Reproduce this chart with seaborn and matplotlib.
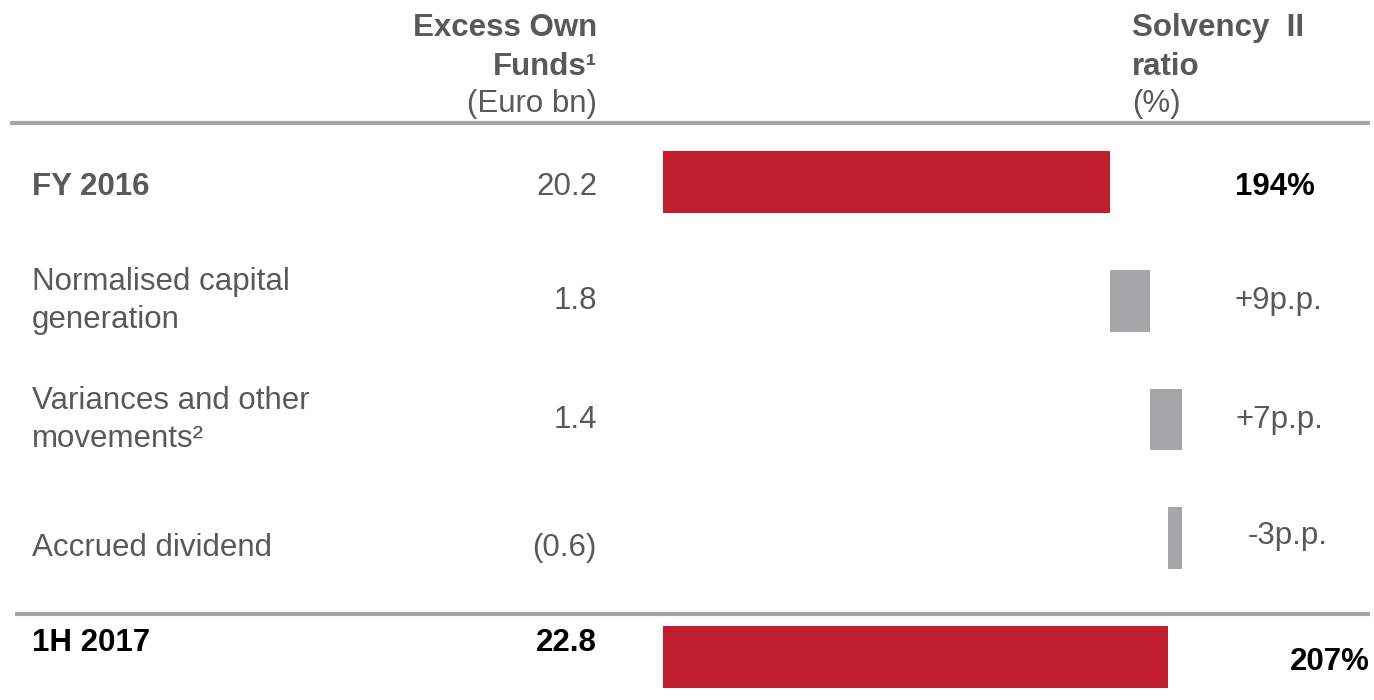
import matplotlib
matplotlib.use("Agg")
import matplotlib.pyplot as plt
import seaborn as sns
import pandas as pd

# ---- data ----
categories = ["FY 2016", "Normalised capital\ngeneration", "Variances and other\nmovements\u00b2",
              "Accrued dividend", "1H 2017"]
excess_own_funds = ["20.2", "1.8", "1.4", "(0.6)", "22.8"]
ratio_start = 194
ratio_moves = [9, 7, -3]
ratio_end = 207
ratio_labels = ["194%", "+9p.p.", "+7p.p.", "-3p.p.", "207%"]
header_left = ["Excess Own", "Funds\u00b9", "(Euro bn)"]
header_right = ["Solvency  II", "ratio", "(%)"]

# waterfall starts / ends
starts, ends = [0], [ratio_start]
cur = ratio_start
for m in ratio_moves:
    nxt = cur + m
    starts.append(min(cur, nxt))
    ends.append(max(cur, nxt))
    cur = nxt
starts.append(0)
ends.append(ratio_end)

RED = "#BE1E2D"
GREY_BAR = "#A6A6A8"
GREY_TXT = "#595959"
LINE = "#A6A6A6"

sns.set_theme(style="white")
plt.rcParams["font.family"] = ["Liberation Sans", "DejaVu Sans"]

W, H = 1374, 700
fig = plt.figure(figsize=(W / 100, H / 100), dpi=100)

# text layer in pixel coordinates
axt = fig.add_axes([0, 0, 1, 1])
axt.set_xlim(0, W)
axt.set_ylim(H, 0)
axt.axis("off")

# bars layer
x0_px = 663
k = 4.5           # px per percentage point
v0 = 94.7         # value at left edge of bar area
axb = fig.add_axes([x0_px / W, 0, (W - x0_px) / W, 1])
axb.patch.set_alpha(0)
row_y0, row_dy = 182, 118.75
df = pd.DataFrame({"cat": categories, "end": ends, "start": starts})
colors = [RED, GREY_BAR, GREY_BAR, GREY_BAR, RED]
sns.barplot(data=df, x="end", y="cat", hue="cat", palette=colors, legend=False,
            orient="h", width=0.522, linewidth=0, ax=axb, saturation=1)
sns.barplot(data=df, x="start", y="cat", color="white", orient="h", width=0.54,
            linewidth=0, ax=axb, saturation=1)
axb.set_xlim(v0, v0 + (W - x0_px) / k)
axb.set_ylim((H - row_y0) / row_dy, -row_y0 / row_dy)
axb.axis("off")

fs = 22.5
# headers
hy = [28, 67, 104]
for i, t in enumerate(header_left):
    axt.text(597, hy[i], t, ha="right", va="center", fontsize=fs,
             fontweight="bold" if i < 2 else "normal", color=GREY_TXT)
for i, t in enumerate(header_right):
    axt.text(1132, hy[i], t, ha="left", va="center", fontsize=fs,
             fontweight="bold" if i < 2 else "normal", color=GREY_TXT)

axt.plot([10, 1370], [123, 123], color=LINE, lw=3, solid_capstyle="butt")
axt.plot([15, 1370], [614, 614], color=LINE, lw=3, solid_capstyle="butt")

# rows
label_y = [187, 301, 420, 548, 643]
val_y = [187, 301, 420, 548, 643]
right_y = [187, 301, 420, 536, 662]
right_x = [1315, 1322, 1323, 1328, 1370]
for i, cat in enumerate(categories):
    bold = i in (0, 4)
    col = "black" if i == 4 else GREY_TXT
    axt.text(32, label_y[i], cat, ha="left", va="center", fontsize=fs,
             fontweight="bold" if bold else "normal", color=col, linespacing=1.38)
    axt.text(597, val_y[i], excess_own_funds[i], ha="right", va="center", fontsize=fs,
             fontweight="bold" if i == 4 else "normal", color=col)
    axt.text(right_x[i], right_y[i], ratio_labels[i], ha="right", va="center", fontsize=fs,
             fontweight="bold" if bold else "normal",
             color="black" if bold else GREY_TXT)

fig.savefig("out.png", dpi=100)
